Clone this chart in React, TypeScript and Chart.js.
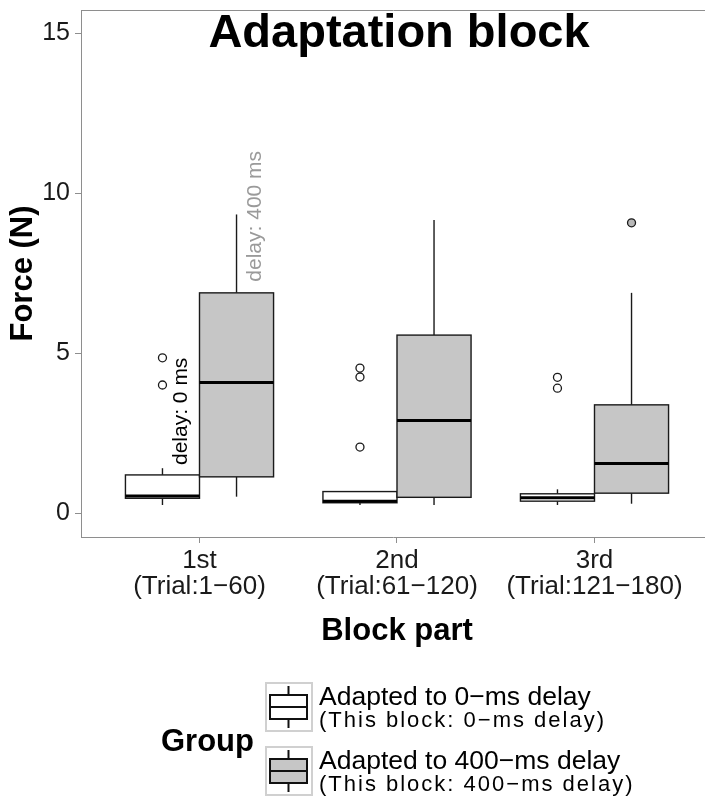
import React, { useEffect, useRef } from "react";
import { Chart, registerables } from "chart.js";

Chart.register(...registerables);

// ---------- data ----------
const CATEGORY_LABELS = [
  ["1st", "(Trial:1−60)"],
  ["2nd", "(Trial:61−120)"],
  ["3rd", "(Trial:121−180)"],
];
const CATEGORY_X = [1, 2, 3];
const Y_TICKS = [0, 5, 10, 15];

const GROUP_NAMES = ["Adapted to 0−ms delay", "Adapted to 400−ms delay"];
const GROUP_SUBS = ["(This block: 0−ms delay)", "(This block: 400−ms delay)"];

// Group 1: adapted to 0-ms delay (white)
const G0_LOW = [0.25, 0.25, 0.25];
const G0_Q1 = [0.46, 0.32, 0.37];
const G0_MED = [0.53, 0.37, 0.48];
const G0_Q3 = [1.19, 0.67, 0.6];
const G0_HIGH = [1.4, 0.69, 0.74];
const G0_OUT = [[4.85, 4.0], [4.53, 4.25, 2.06], [4.24, 3.9]];

// Group 2: adapted to 400-ms delay (grey)
const G1_LOW = [0.51, 0.25, 0.29];
const G1_Q1 = [1.13, 0.49, 0.62];
const G1_MED = [4.08, 2.89, 1.55];
const G1_Q3 = [6.88, 5.56, 3.38];
const G1_HIGH = [9.33, 9.16, 6.88];
const G1_OUT = [[], [], [9.07]];

const TITLE_TEXT = "Adaptation block";
const TITLE_X = 2;
const TITLE_Y = 15;
const NOTE_TEXT = ["delay: 0 ms", "delay: 400 ms"];
const NOTE_X = [0.905, 1.28];
const NOTE_Y = [1.5, 7.23];
const X_TITLE = "Block part";
const Y_TITLE = "Force (N)";
const LEGEND_TITLE = "Group";

// ---------- style ----------
const FONT = '"Liberation Sans", Arial, Helvetica, sans-serif';
const WHITE = "#ffffff";
const GREY = "#c6c6c6";
const INK = "#1a1a1a";
const AXIS = "#8e8e8e";
const DODGE = 0.1875;
const BOX_W = 0.375;

const GROUPS = [
  { low: G0_LOW, q1: G0_Q1, med: G0_MED, q3: G0_Q3, high: G0_HIGH, fill: WHITE, off: -DODGE },
  { low: G1_LOW, q1: G1_Q1, med: G1_MED, q3: G1_Q3, high: G1_HIGH, fill: GREY, off: DODGE },
];

function line(ctx: CanvasRenderingContext2D, x1: number, y1: number, x2: number, y2: number) {
  ctx.beginPath();
  ctx.moveTo(x1, y1);
  ctx.lineTo(x2, y2);
  ctx.stroke();
}

const boxPlugin = {
  id: "boxes",
  beforeDatasetsDraw(chart: any) {
    const { ctx, scales } = chart;
    const x = scales.x;
    const y = scales.y;
    ctx.save();
    GROUPS.forEach((g) => {
      CATEGORY_X.forEach((cx, i) => {
        const xc = x.getPixelForValue(cx + g.off);
        const xl = x.getPixelForValue(cx + g.off - BOX_W / 2);
        const xr = x.getPixelForValue(cx + g.off + BOX_W / 2);
        const pLow = y.getPixelForValue(g.low[i]);
        const pQ1 = y.getPixelForValue(g.q1[i]);
        const pMed = y.getPixelForValue(g.med[i]);
        const pQ3 = y.getPixelForValue(g.q3[i]);
        const pHigh = y.getPixelForValue(g.high[i]);
        ctx.strokeStyle = INK;
        ctx.lineWidth = 1.4;
        line(ctx, xc, pHigh, xc, pQ3);
        line(ctx, xc, pQ1, xc, pLow);
        ctx.fillStyle = g.fill;
        ctx.fillRect(xl, pQ3, xr - xl, pQ1 - pQ3);
        ctx.strokeRect(xl, pQ3, xr - xl, pQ1 - pQ3);
        ctx.strokeStyle = "#000";
        ctx.lineWidth = 3;
        line(ctx, xl, pMed, xr, pMed);
      });
    });
    ctx.restore();
  },
  afterDatasetsDraw(chart: any) {
    const { ctx, scales, chartArea } = chart;
    const x = scales.x;
    const y = scales.y;
    ctx.save();
    // panel top border
    ctx.strokeStyle = AXIS;
    ctx.lineWidth = 1;
    line(ctx, chartArea.left, Math.round(chartArea.top) + 0.5, chartArea.right + 2, Math.round(chartArea.top) + 0.5);

    // title annotation
    ctx.fillStyle = "#000";
    ctx.font = `bold 47px ${FONT}`;
    ctx.textAlign = "center";
    ctx.textBaseline = "alphabetic";
    ctx.fillText(TITLE_TEXT, x.getPixelForValue(TITLE_X) + 2, y.getPixelForValue(TITLE_Y) + 14);

    // rotated notes
    NOTE_TEXT.forEach((t, i) => {
      ctx.save();
      ctx.translate(x.getPixelForValue(NOTE_X[i]), y.getPixelForValue(NOTE_Y[i]));
      ctx.rotate(-Math.PI / 2);
      ctx.font = `21px ${FONT}`;
      ctx.fillStyle = i === 0 ? "#000" : "#9a9a9a";
      ctx.textAlign = "left";
      ctx.textBaseline = "middle";
      ctx.fillText(t, 0, 0);
      ctx.restore();
    });

    // x-axis title, centred on the (partly cropped) panel
    ctx.fillStyle = "#000";
    ctx.font = `bold 31px ${FONT}`;
    ctx.textAlign = "center";
    ctx.textBaseline = "alphabetic";
    ctx.fillText(X_TITLE, x.getPixelForValue(2), 640);
    ctx.restore();
  },
  afterDraw(chart: any) {
    const { ctx } = chart;
    ctx.save();
    // legend title
    ctx.fillStyle = "#000";
    ctx.font = `bold 31px ${FONT}`;
    ctx.textAlign = "left";
    ctx.textBaseline = "alphabetic";
    ctx.fillText(LEGEND_TITLE, 161, 751);

    const keyTops = [682, 746];
    const fills = [WHITE, GREY];
    keyTops.forEach((top, i) => {
      // key background
      ctx.strokeStyle = "#d0d0d0";
      ctx.lineWidth = 2;
      ctx.fillStyle = "#ffffff";
      ctx.fillRect(266, top + 1, 46, 48);
      ctx.strokeRect(266, top + 1, 46, 48);
      // glyph
      const cx = 288.5;
      const cy = top + 25;
      ctx.strokeStyle = "#111";
      ctx.lineWidth = 2;
      line(ctx, cx, cy - 21, cx, cy + 21);
      ctx.fillStyle = fills[i];
      ctx.fillRect(270, cy - 12, 37, 24);
      ctx.strokeRect(270, cy - 12, 37, 24);
      line(ctx, 270, cy, 307, cy);
      // labels
      ctx.fillStyle = "#000";
      ctx.font = `26.5px ${FONT}`;
      ctx.fillText(GROUP_NAMES[i], 319, top + 23);
      ctx.font = `22px ${FONT}`;
      (ctx as any).letterSpacing = "2px";
      ctx.fillText(GROUP_SUBS[i], 319, top + 45);
      (ctx as any).letterSpacing = "0px";
    });
    ctx.restore();
  },
};

export default function App() {
  const ref = useRef<HTMLCanvasElement | null>(null);

  useEffect(() => {
    if (!ref.current) return;
    const outWhite = G0_OUT.flatMap((arr, i) => arr.map((v) => ({ x: CATEGORY_X[i] - DODGE, y: v })));
    const outGrey = G1_OUT.flatMap((arr, i) => arr.map((v) => ({ x: CATEGORY_X[i] + DODGE, y: v })));

    const chart = new Chart(ref.current, {
      type: "scatter",
      data: {
        datasets: [
          {
            label: GROUP_NAMES[0],
            data: outWhite,
            pointRadius: 4,
            pointBackgroundColor: WHITE,
            pointBorderColor: INK,
            pointBorderWidth: 1.3,
          },
          {
            label: GROUP_NAMES[1],
            data: outGrey,
            pointRadius: 4,
            pointBackgroundColor: "#b8b8b8",
            pointBorderColor: INK,
            pointBorderWidth: 1.3,
          },
        ],
      },
      options: {
        animation: false,
        responsive: false,
        maintainAspectRatio: false,
        layout: { autoPadding: false, padding: { top: 10, left: 0, right: 0, bottom: 140 } },
        plugins: {
          legend: { display: false },
          tooltip: { enabled: false },
        },
        scales: {
          x: {
            type: "linear",
            min: 0.4,
            max: 3.5595,
            afterBuildTicks: (axis: any) => {
              axis.ticks = CATEGORY_X.map((v) => ({ value: v }));
            },
            afterFit: (scale: any) => {
              scale.height = 123;
              scale.paddingLeft = 0;
              scale.paddingRight = 0;
            },
            ticks: {
              autoSkip: false,
              maxRotation: 0,
              minRotation: 0,
              padding: 5,
              color: "#1a1a1a",
              font: { family: FONT, size: 26, lineHeight: 1.0 },
              callback: (value: any) => {
                const i = CATEGORY_X.indexOf(Number(value));
                return i >= 0 ? CATEGORY_LABELS[i] : "";
              },
            },
            grid: { display: true, drawOnChartArea: false, drawTicks: true, tickLength: 6, color: AXIS, lineWidth: 1 },
            border: { display: true, color: AXIS, width: 1 },
            title: { display: false },
          },
          y: {
            type: "linear",
            min: -0.75,
            max: 15.72,
            afterBuildTicks: (axis: any) => {
              axis.ticks = Y_TICKS.map((v) => ({ value: v }));
            },
            afterFit: (scale: any) => {
              scale.width = 81;
              scale.paddingTop = 0;
              scale.paddingBottom = 0;
            },
            ticks: {
              padding: 5,
              color: "#1a1a1a",
              font: { family: FONT, size: 25, lineHeight: 1.0 },
              callback: (value: any) => String(value),
            },
            grid: { display: true, drawOnChartArea: false, drawTicks: true, tickLength: 6, color: AXIS, lineWidth: 1 },
            border: { display: true, color: AXIS, width: 1 },
            title: {
              display: true,
              text: Y_TITLE,
              color: "#000",
              font: { family: FONT, size: 31, weight: "bold" },
              padding: { top: 5, bottom: 0 },
            },
          },
        },
      },
      plugins: [boxPlugin],
    } as any);

    return () => chart.destroy();
  }, []);

  return (
    <div style={{ position: "absolute", left: 0, top: 0, width: 705, height: 800, background: "#fff" }}>
      <canvas ref={ref} width={705} height={800} style={{ display: "block", width: 705, height: 800 }} />
    </div>
  );
}
